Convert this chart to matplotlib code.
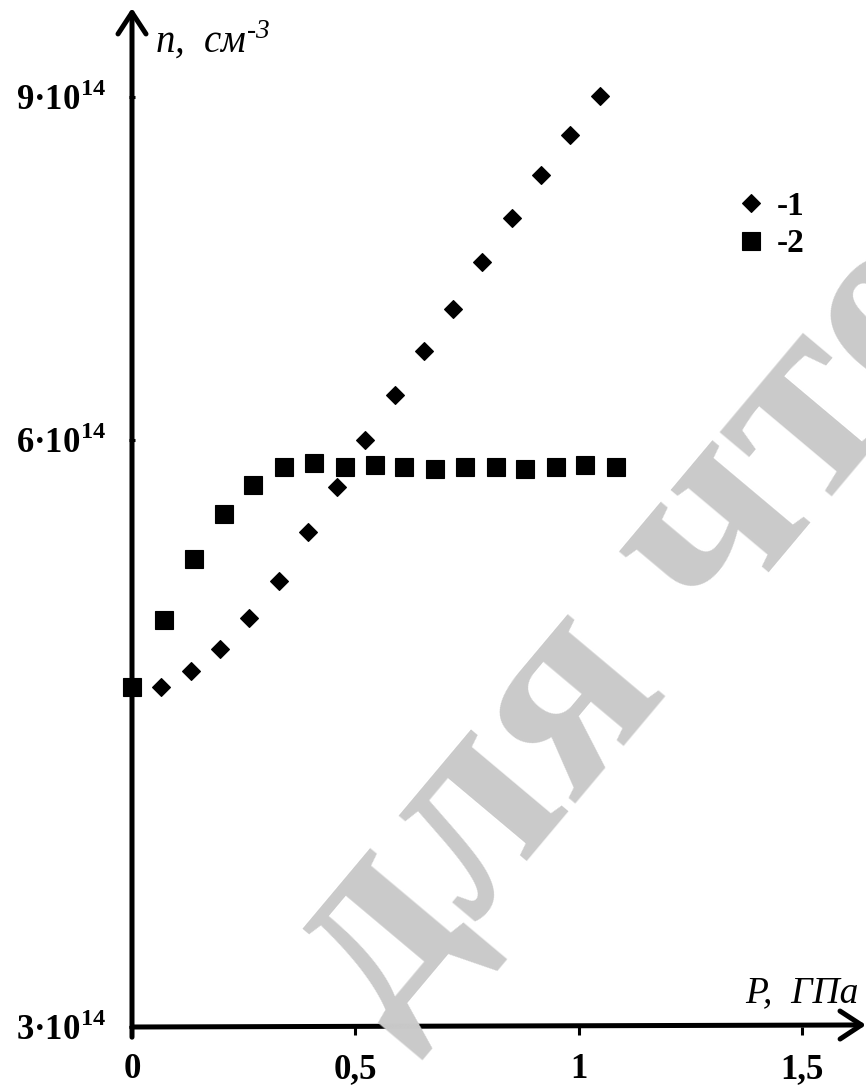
import numpy as np
import matplotlib.pyplot as plt

# curve 1 (diamonds): n vs pressure
p1 = [0.065, 0.132, 0.197, 0.262, 0.329, 0.394, 0.459, 0.521,
      0.588, 0.653, 0.718, 0.783, 0.850, 0.915, 0.980, 1.047]
n1 = [4.74, 4.82, 4.93, 5.09, 5.28, 5.53, 5.76, 6.00,
      6.39, 6.78, 7.15, 7.56, 7.94, 8.32, 8.67, 9.01]

# curve 2 (squares)
p2 = [0.0, 0.072, 0.139, 0.206, 0.271, 0.340, 0.407, 0.477, 0.544,
      0.609, 0.678, 0.745, 0.814, 0.879, 0.949, 1.013, 1.083]
n2 = [4.74, 5.08, 5.39, 5.62, 5.77, 5.86, 5.88, 5.86, 5.87,
      5.86, 5.85, 5.86, 5.86, 5.85, 5.86, 5.87, 5.86]

x_ticks = [0, 0.5, 1, 1.5]
x_tick_labels = ['0', '0,5', '1', '1,5']
y_ticks = [3, 6, 9]
y_tick_labels = ['3·10$^{14}$', '6·10$^{14}$', '9·10$^{14}$']

plt.rcParams['font.family'] = ['Liberation Serif', 'DejaVu Serif']
plt.rcParams['mathtext.fontset'] = 'custom'
plt.rcParams['mathtext.rm'] = 'Liberation Serif:bold'
plt.rcParams['mathtext.sf'] = 'Liberation Serif:italic'

# the n axis is not uniform: 3..6 takes more room than 6..9
y_nodes = [3, 6, 9, 12]
y_pos = [0, 587, 930, 1273]


def fwd(y):
    return np.interp(y, y_nodes, y_pos)


def inv(p):
    return np.interp(p, y_pos, y_nodes)


fig = plt.figure(figsize=(8.66, 10.9), dpi=100)
ax = fig.add_axes([132 / 866, 63 / 1090, 734 / 866, 1019 / 1090])
ax.set_yscale('function', functions=(fwd, inv))
ax.set_xlim(0, 734 / 446.7)
ax.set_ylim(3, inv(1019))

for s in ax.spines.values():
    s.set_visible(False)

# watermark behind everything
fig.text(332 / 866, 1 - 989 / 1090, 'для чтения', rotation=50,
         rotation_mode='anchor', ha='left', va='center', fontsize=200,
         fontweight='bold', color='#cacaca', zorder=0)

# axes with arrowheads
arrow = dict(arrowstyle='->,head_length=0.55,head_width=0.36', lw=3.6,
             color='black', shrinkA=0, shrinkB=0, mutation_scale=28)
ax.annotate('', xy=(1.0, 0.002), xytext=(0, 0), xycoords='axes fraction',
            arrowprops=arrow, annotation_clip=False, zorder=5)
ax.annotate('', xy=(0, 1.0), xytext=(0, -0.01), xycoords='axes fraction',
            arrowprops=arrow, annotation_clip=False, zorder=5)

ax.plot(p1, n1, 'D', color='black', ms=8.8, mew=0.8,
        label='-1', zorder=4, clip_on=False)
ax.plot(p2, n2, 's', color='black', ms=12.5, mew=0.8,
        label='-2', zorder=4, clip_on=False)

ax.set_xticks(x_ticks)
ax.set_xticklabels(x_tick_labels)
ax.set_yticks(y_ticks)
ax.set_yticklabels(y_tick_labels)
ax.yaxis.set_minor_locator(plt.NullLocator())
ax.tick_params(axis='x', direction='out', length=6, width=2.2, pad=13,
               labelsize=25)
ax.tick_params(axis='y', direction='inout', length=5, width=2.2, pad=16,
               labelsize=25)
for lab in ax.get_xticklabels() + ax.get_yticklabels():
    lab.set_fontweight('bold')

fig.text(155 / 866, 1 - 53 / 1090, 'n,  см$^{\\mathsf{‐3}}$', fontsize=28,
         style='italic', ha='left', va='baseline')
fig.text(745 / 866, 1 - 1002 / 1090, 'P,  ГПа', fontsize=27,
         style='italic', ha='left', va='baseline')

leg = ax.legend(loc='upper left', bbox_to_anchor=(0.803, 0.837),
                frameon=False, handlelength=0.8, handletextpad=0.35,
                labelspacing=0.2, borderpad=0,
                prop={'family': 'Liberation Serif', 'weight': 'bold',
                      'size': 24})

fig.savefig('out.png', dpi=100)
